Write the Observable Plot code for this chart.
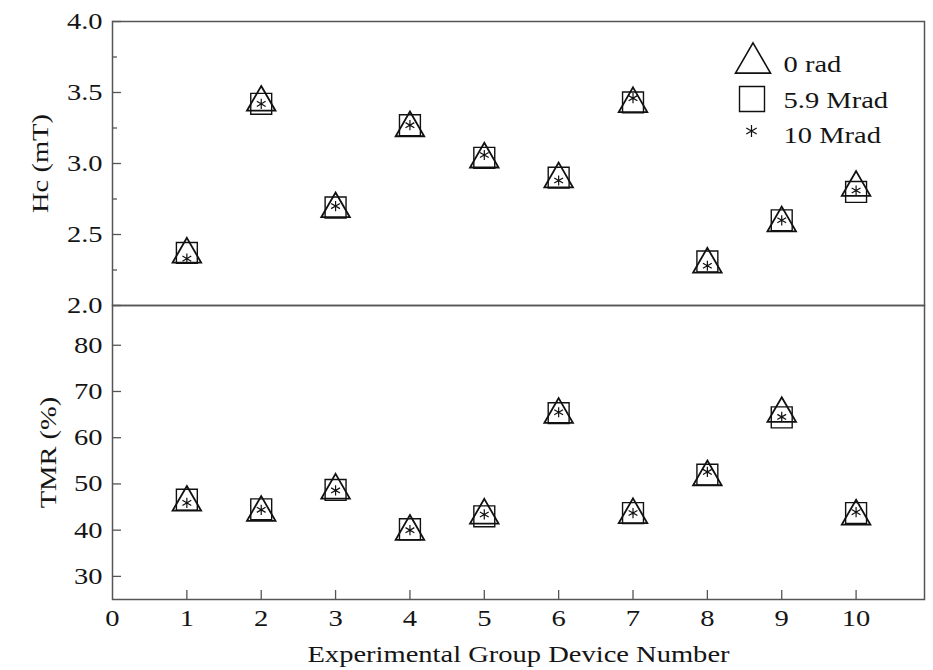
<!DOCTYPE html>
<html><head><meta charset="utf-8">
<script src="https://cdn.jsdelivr.net/npm/d3@7"></script>
<script src="https://cdn.jsdelivr.net/npm/@observablehq/plot@0.6"></script>
<style>body{margin:0;background:#fff} #chart svg{display:block;overflow:visible}</style>
</head><body><div id="chart"></div>
<script>
// ---- data ----
const devices = [1, 2, 3, 4, 5, 6, 7, 8, 9, 10];
const seriesNames = ["0 rad", "5.9 Mrad", "10 Mrad"];
const hc0rad   = [2.36, 3.43, 2.68, 3.25, 3.03, 2.89, 3.42, 2.29, 2.58, 2.83];
const hc59Mrad = [2.37, 3.42, 2.69, 3.27, 3.04, 2.90, 3.43, 2.31, 2.60, 2.80];
const hc10Mrad = [2.33, 3.42, 2.70, 3.27, 3.06, 2.88, 3.46, 2.28, 2.60, 2.81];
const tmr0rad   = [46.0, 43.8, 48.6, 39.7, 43.2, 65.0, 43.3, 51.5, 65.2, 43.0];
const tmr59Mrad = [46.6, 44.5, 48.7, 40.2, 43.0, 65.3, 43.7, 52.0, 64.4, 43.7];
const tmr10Mrad = [45.9, 44.4, 48.6, 40.0, 43.4, 65.5, 43.7, 52.6, 64.5, 43.9];
const xTickLabels = [0, 1, 2, 3, 4, 5, 6, 7, 8, 9, 10];
const xTickMarks = [1, 2, 3, 4, 5, 6, 7, 8, 9, 10];
const hcMajorTicks = [2.0, 2.5, 3.0, 3.5, 4.0];
const hcMinorTicks = [2.25, 2.75, 3.25, 3.75];
const tmrTicks = [30, 40, 50, 60, 70, 80];
const hcTitle = "Hc (mT)";
const tmrTitle = "TMR (%)";
const xTitle = "Experimental Group Device Number";

// ---- tables ----
const hcSeries = [hc0rad, hc59Mrad, hc10Mrad];
const tmrSeries = [tmr0rad, tmr59Mrad, tmr10Mrad];
const rows = seriesNames.flatMap((s, k) => devices.map((d, i) => ({
  device: d, series: s, hc: hcSeries[k][i], tmr: tmrSeries[k][i]
})));
const bySeries = s => rows.filter(r => r.series === s);

const ink = "#111";
const frameColor = "#555";
const textColor = "#151515";
const markerStyles = [
  {symbol: "square", r: 11.8, strokeWidth: 1.4, name: seriesNames[1]},
  {symbol: "asterisk", r: 4.8, strokeWidth: 1.2, name: seriesNames[2]},
  {symbol: "triangle", r: 10.6, strokeWidth: 1.8, name: seriesNames[0]}
];
const xDomain = [0, 10.92];
const common = {
  width: 933, marginLeft: 112, marginRight: 9,
  style: {fontFamily: "'Liberation Serif', 'Times New Roman', serif", fontSize: "23px", color: textColor, background: "transparent", overflow: "visible"}
};
const seriesDots = key => markerStyles.map(m => Plot.dot(bySeries(m.name), {
  x: "device", y: key, symbol: m.symbol, r: m.r, stroke: ink, strokeWidth: m.strokeWidth, fill: "none"
}));

const topPanel = Plot.plot({
  ...common,
  height: 305, marginTop: 21, marginBottom: 0,
  x: {domain: xDomain, axis: null},
  y: {domain: [2, 4]},
  marks: [
    Plot.axisY(hcMajorTicks, {tickSize: -9, fill: "none", stroke: frameColor, strokeWidth: 1.3}),
    Plot.axisY(hcMinorTicks, {tickSize: -5, fill: "none", stroke: frameColor, strokeWidth: 1.3}),
    Plot.axisY(hcMajorTicks, {tickSize: 0, tickPadding: 10, fill: textColor, tickFormat: d3.format(".1f"), label: null}),
    ...seriesDots("hc"),
    Plot.frame({stroke: frameColor, strokeWidth: 1.5}),
    Plot.text([hcTitle], {text: d => d, frameAnchor: "left", dx: -65, rotate: -90, lineAnchor: "bottom", textAnchor: "middle", fill: textColor}),
    // legend
    Plot.dot([seriesNames[0]], {frameAnchor: "top-right", dx: -171.5, dy: 41.5, symbol: "triangle", r: 13, stroke: ink, strokeWidth: 1.6, fill: "none"}),
    Plot.dot([seriesNames[1]], {frameAnchor: "top-right", dx: -172.5, dy: 77.5, symbol: "square", r: 14.1, stroke: ink, strokeWidth: 1.4, fill: "none"}),
    Plot.dot([seriesNames[2]], {frameAnchor: "top-right", dx: -173, dy: 109.5, symbol: "asterisk", r: 5.7, stroke: ink, strokeWidth: 1.2, fill: "none"}),
    Plot.text([seriesNames[0]], {text: d => d, frameAnchor: "top-right", dx: -141, dy: 50, textAnchor: "start", lineAnchor: "bottom", fill: textColor}),
    Plot.text([seriesNames[1]], {text: d => d, frameAnchor: "top-right", dx: -141, dy: 86, textAnchor: "start", lineAnchor: "bottom", fill: textColor}),
    Plot.text([seriesNames[2]], {text: d => d, frameAnchor: "top-right", dx: -141, dy: 121, textAnchor: "start", lineAnchor: "bottom", fill: textColor})
  ]
});

const bottomPanel = Plot.plot({
  ...common,
  height: 365, marginTop: 0, marginBottom: 71,
  x: {domain: xDomain},
  y: {domain: [25, 88.6]},
  marks: [
    Plot.axisY(tmrTicks, {tickSize: -9, fill: "none", stroke: frameColor, strokeWidth: 1.3}),
    Plot.axisY(tmrTicks, {tickSize: 0, tickPadding: 10, fill: textColor, label: null}),
    Plot.axisX(xTickMarks, {tickSize: -9, fill: "none", stroke: frameColor, strokeWidth: 1.3}),
    Plot.axisX(xTickLabels, {tickSize: 0, tickPadding: 10, fill: textColor, label: null}),
    ...seriesDots("tmr"),
    Plot.frame({stroke: frameColor, strokeWidth: 1.5}),
    Plot.text([tmrTitle], {text: d => d, frameAnchor: "left", dx: -57, rotate: -90, lineAnchor: "bottom", textAnchor: "middle", fill: textColor}),
    Plot.text([xTitle], {text: d => d, frameAnchor: "bottom", dy: 62, lineAnchor: "bottom", textAnchor: "middle", fill: textColor})
  ]
});

const chart = document.getElementById("chart");
chart.appendChild(topPanel);
chart.appendChild(bottomPanel);

// the reference uses a wide serif face: widen glyphs horizontally
chart.querySelectorAll("svg text").forEach(t => {
  const w = t.getComputedTextLength();
  if (w > 0) {
    t.setAttribute("textLength", (w * 1.24).toFixed(1));
    t.setAttribute("lengthAdjust", "spacingAndGlyphs");
  }
});
</script>
</body></html>
